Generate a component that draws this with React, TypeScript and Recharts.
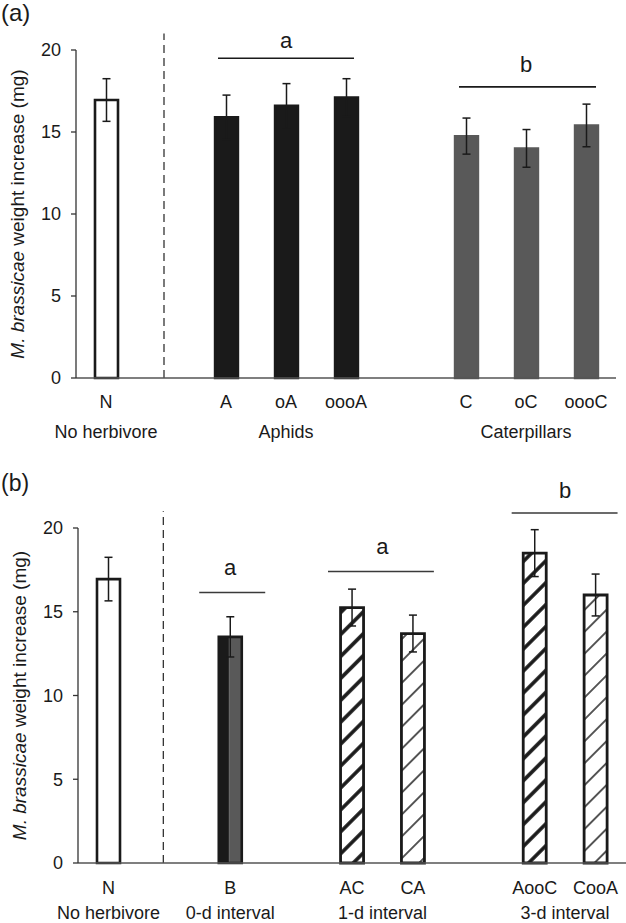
import React from 'react';
import { BarChart, Bar, XAxis, YAxis, ErrorBar, Cell, ReferenceLine } from 'recharts';

// ---------- Panel (a) ----------
const categoriesA = ['N', '_gap1', 'A', 'oA', 'oooA', '_gap2', 'C', 'oC', 'oooC'];
const valuesA = [16.95, null, 15.9, 16.6, 17.1, null, 14.75, 14.0, 15.4];
const errorsA = [1.3, null, 1.35, 1.35, 1.15, null, 1.1, 1.15, 1.3];
const kindsA = ['none', 'gap', 'aphid', 'aphid', 'aphid', 'gap', 'caterpillar', 'caterpillar', 'caterpillar'];
const groupsA = [
  { label: 'No herbivore', members: ['N'] },
  { label: 'Aphids', members: ['A', 'oA', 'oooA'] },
  { label: 'Caterpillars', members: ['C', 'oC', 'oooC'] },
];
const lettersA = [
  { letter: 'a', from: 'A', to: 'oooA', y: 19.5 },
  { letter: 'b', from: 'C', to: 'oooC', y: 17.75 },
];

// ---------- Panel (b) ----------
const categoriesB = ['N', '_gap1', 'B', '_gap2', 'AC', 'CA', '_gap3', 'AooC', 'CooA'];
const valuesB = [16.95, null, 13.5, null, 15.25, 13.7, null, 18.5, 16.0];
const errorsB = [1.3, null, 1.2, null, 1.1, 1.1, null, 1.4, 1.25];
const kindsB = ['none', 'gap', 'both', 'gap', 'thick', 'thin', 'gap', 'thick', 'thin'];
const groupsB = [
  { label: 'No herbivore', members: ['N'] },
  { label: '0-d interval', members: ['B'] },
  { label: '1-d interval', members: ['AC', 'CA'] },
  { label: '3-d interval', members: ['AooC', 'CooA'] },
];
const lettersB = [
  { letter: 'a', from: 'B', to: 'B', y: 16.15 },
  { letter: 'a', from: 'AC', to: 'CA', y: 17.4 },
  { letter: 'b', from: 'AooC', to: 'CooA', y: 20.9 },
];

const yTicks = [0, 5, 10, 15, 20];
const yDomain: [number, number] = [0, 20];
const dividerCategory = '_gap1';
const dividerTop = 21;

const INK = '#1a1a1a';
const FONT = '"Liberation Sans", Arial, Helvetica, sans-serif';
const CHART_W = 626;

const kindStyle = (k: string) => {
  switch (k) {
    case 'none':
      return { fill: '#ffffff', stroke: INK, strokeWidth: 2.6 };
    case 'aphid':
      return { fill: INK, stroke: INK, strokeWidth: 2.4 };
    case 'caterpillar':
      return { fill: '#595959', stroke: '#595959', strokeWidth: 2.4 };
    case 'both':
      return { fill: 'url(#splitBoth)', stroke: INK, strokeWidth: 2.6 };
    case 'thick':
      return { fill: 'url(#hatchThick)', stroke: INK, strokeWidth: 2.8 };
    case 'thin':
      return { fill: 'url(#hatchThin)', stroke: INK, strokeWidth: 2.8 };
    default:
      return { fill: 'none', stroke: 'none', strokeWidth: 0 };
  }
};

const YLabel = (x: number) => (props: any) => {
  const vb = props && props.viewBox ? props.viewBox : { y: 0, height: 0 };
  const cy = vb.y + vb.height / 2;
  return (
    <text
      x={x}
      y={cy}
      transform={`rotate(-90 ${x} ${cy})`}
      textAnchor="middle"
      fontSize={19}
      fill={INK}
      fontFamily={FONT}
    >
      <tspan fontStyle="italic">M. brassicae</tspan>
      <tspan> weight increase (mg)</tspan>
    </text>
  );
};

type PanelProps = {
  categories: string[];
  values: (number | null)[];
  errors: (number | null)[];
  kinds: string[];
  groups: { label: string; members: string[] }[];
  letters: { letter: string; from: string; to: string; y: number }[];
  height: number;
  margin: { top: number; right: number; bottom: number; left: number };
  yAxisWidth: number;
  axisH: number;
  tickGap: number;
  groupGap: number;
  pads: [number, number][];
  labelGaps: number[];
  labelX: number;
  sigColor: string;
  dividerShift: number;
};

function Panel(p: PanelProps) {
  const data = p.categories.map((c, i) => ({ cat: c, value: p.values[i], err: p.errors[i] }));
  const band = (CHART_W - p.margin.left - p.margin.right - p.yAxisWidth) / p.categories.length;

  const Tick = (tp: any) => {
    const v: string = tp.payload ? tp.payload.value : '';
    const x = Number(tp.x);
    const y = Number(tp.y);
    const grp = p.groups.find((g) => g.members[0] === v);
    return (
      <g>
        {!v.startsWith('_') && (
          <text x={x} y={y} dy="0.71em" textAnchor="middle" fontSize={18} fill={INK} fontFamily={FONT}>
            {v}
          </text>
        )}
        {grp && (
          <text
            x={x + ((grp.members.length - 1) * band) / 2}
            y={y + p.groupGap}
            dy="0.71em"
            textAnchor="middle"
            fontSize={18}
            fill={INK}
            fontFamily={FONT}
          >
            {grp.label}
          </text>
        )}
      </g>
    );
  };

  return (
    <BarChart width={CHART_W} height={p.height} data={data} margin={p.margin} barSize={23}>
      <defs>
        <pattern id="hatchThick" patternUnits="userSpaceOnUse" width="15.5" height="15.5" patternTransform="rotate(45)">
          <rect width="15.5" height="15.5" fill="#ffffff" />
          <line x1="7.75" y1="0" x2="7.75" y2="15.5" stroke={INK} strokeWidth="3.6" />
        </pattern>
        <pattern id="hatchThin" patternUnits="userSpaceOnUse" width="15.5" height="15.5" patternTransform="rotate(45)">
          <rect width="15.5" height="15.5" fill="#ffffff" />
          <line x1="7.75" y1="0" x2="7.75" y2="15.5" stroke="#111111" strokeWidth="1.4" />
        </pattern>
        <pattern id="splitBoth" patternUnits="objectBoundingBox" patternContentUnits="objectBoundingBox" width="1" height="1">
          <rect x="0" y="0" width="0.46" height="1" fill={INK} />
          <rect x="0.46" y="0" width="0.54" height="1" fill="#595959" />
        </pattern>
      </defs>
      <XAxis
        dataKey="cat"
        type="category"
        interval={0}
        tickLine={false}
        tickSize={0}
        tickMargin={p.tickGap}
        height={p.axisH}
        axisLine={{ stroke: '#555555', strokeWidth: 1.5 }}
        tick={<Tick />}
      />
      <YAxis
        type="number"
        domain={yDomain}
        ticks={yTicks}
        interval={0}
        width={p.yAxisWidth}
        tickSize={5}
        tickMargin={10}
        axisLine={{ stroke: '#333333', strokeWidth: 1.3 }}
        tickLine={{ stroke: '#333333', strokeWidth: 1.3 }}
        tick={{ fontSize: 18, fill: INK, fontFamily: FONT }}
        label={YLabel(p.labelX)}
      />
      <ReferenceLine
        segment={[
          { x: dividerCategory, y: 0 },
          { x: dividerCategory, y: dividerTop },
        ]}
        ifOverflow="visible"
        shape={(sp: any) => (
          <line
            x1={sp.x1 + p.dividerShift}
            y1={sp.y1}
            x2={sp.x2 + p.dividerShift}
            y2={sp.y2}
            stroke="#333333"
            strokeWidth={1.3}
            strokeDasharray="8 5"
          />
        )}
      />
      <Bar dataKey="value" isAnimationActive={false}>
        {p.categories.map((c, i) => (
          <Cell key={c} {...kindStyle(p.kinds[i])} />
        ))}
        <ErrorBar dataKey="err" width={4} strokeWidth={1.5} stroke={INK} direction="y" isAnimationActive={false} />
      </Bar>
      {p.letters.map((l, i) => (
        <ReferenceLine
          key={`sig${i}`}
          segment={[
            { x: l.from, y: l.y },
            { x: l.to, y: l.y },
          ]}
          ifOverflow="visible"
          stroke={p.sigColor}
          strokeWidth={1.6}
          shape={(sp: any) => (
            <line
              x1={Math.min(sp.x1, sp.x2) - p.pads[i][0]}
              y1={sp.y1}
              x2={Math.max(sp.x1, sp.x2) + p.pads[i][1]}
              y2={sp.y2}
              stroke={p.sigColor}
              strokeWidth={1.6}
            />
          )}
          label={{ value: l.letter, position: 'top', offset: p.labelGaps[i], fontSize: 22, fill: INK, fontFamily: FONT }}
        />
      ))}
    </BarChart>
  );
}

export default function App() {
  return (
    <div
      style={{
        position: 'absolute',
        left: 0,
        top: 0,
        width: 626,
        height: 923,
        background: '#ffffff',
        fontFamily: FONT,
        overflow: 'hidden',
      }}
    >
      <div style={{ position: 'absolute', left: 0, top: 0 }}>
        <Panel
          categories={categoriesA}
          values={valuesA}
          errors={errorsA}
          kinds={kindsA}
          groups={groupsA}
          letters={lettersA}
          height={460}
          margin={{ top: 50, right: 10, bottom: 0, left: 0 }}
          yAxisWidth={76}
          axisH={82}
          tickGap={17}
          groupGap={30}
          pads={[
            [8, 8],
            [7, 10],
          ]}
          labelGaps={[10, 15]}
          labelX={23.5}
          sigColor={INK}
          dividerShift={-2}
        />
      </div>
      <div style={{ position: 'absolute', left: 0, top: 460 }}>
        <Panel
          categories={categoriesB}
          values={valuesB}
          errors={errorsB}
          kinds={kindsB}
          groups={groupsB}
          letters={lettersB}
          height={463}
          margin={{ top: 68, right: 0, bottom: 0, left: 0 }}
          yAxisWidth={78}
          axisH={60}
          tickGap={18}
          groupGap={25.5}
          pads={[
            [31, 35],
            [24, 21],
            [23, 22],
          ]}
          labelGaps={[17, 18, 15]}
          labelX={26}
          sigColor="#3a3a3a"
          dividerShift={-6}
        />
      </div>
      <div style={{ position: 'absolute', left: 1, top: 1, fontSize: 24, lineHeight: '24px', color: INK }}>(a)</div>
      <div style={{ position: 'absolute', left: 1, top: 472, fontSize: 23, lineHeight: '23px', color: INK }}>(b)</div>
    </div>
  );
}
